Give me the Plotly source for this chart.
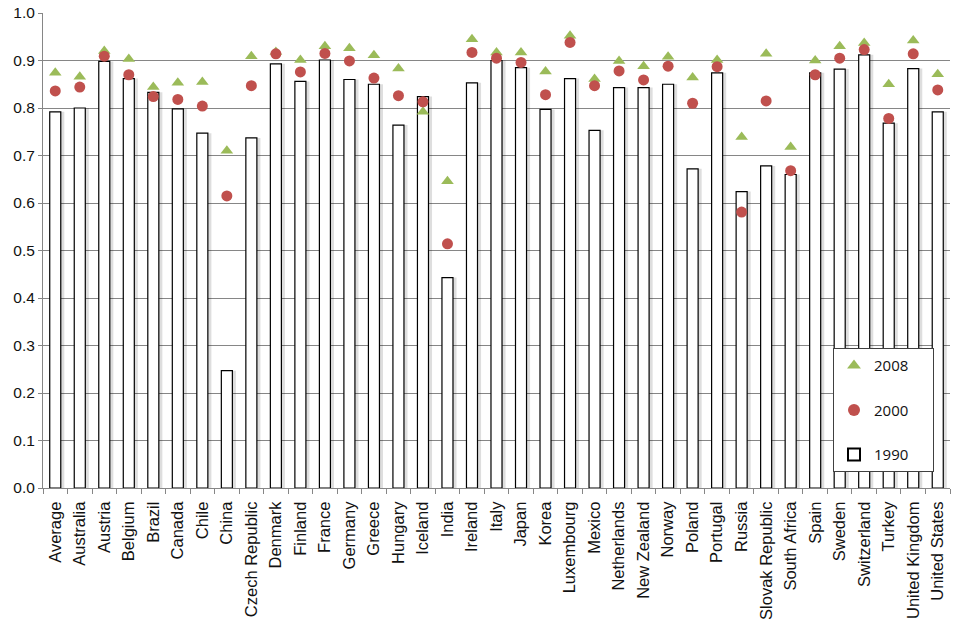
import plotly.graph_objects as go

countries = ["Average", "Australia", "Austria", "Belgium", "Brazil", "Canada", "Chile", "China",
             "Czech Republic", "Denmark", "Finland", "France", "Germany", "Greece", "Hungary",
             "Iceland", "India", "Ireland", "Italy", "Japan", "Korea", "Luxembourg", "Mexico",
             "Netherlands", "New Zealand", "Norway", "Poland", "Portugal", "Russia",
             "Slovak Republic", "South Africa", "Spain", "Sweden", "Switzerland", "Turkey",
             "United Kingdom", "United States"]

v1990 = [0.792, 0.800, 0.898, 0.862, 0.833, 0.798, 0.747, 0.247, 0.737, 0.893, 0.856,
         0.901, 0.860, 0.850, 0.764, 0.824, 0.443, 0.853, 0.900, 0.885, 0.797, 0.862,
         0.753, 0.843, 0.843, 0.850, 0.672, 0.874, 0.624, 0.678, 0.660, 0.874, 0.882,
         0.912, 0.768, 0.883, 0.792]

v2000 = [0.836, 0.844, 0.909, 0.870, 0.824, 0.818, 0.804, 0.615, 0.847, 0.914, 0.876,
         0.915, 0.899, 0.863, 0.826, 0.813, 0.514, 0.917, 0.905, 0.896, 0.828, 0.938,
         0.847, 0.878, 0.859, 0.888, 0.810, 0.887, 0.581, 0.815, 0.668, 0.870, 0.905,
         0.923, 0.778, 0.914, 0.838]

v2008 = [0.874, 0.866, 0.920, 0.903, 0.844, 0.853, 0.855, 0.710, 0.909, 0.918, 0.901,
         0.930, 0.926, 0.911, 0.883, 0.792, 0.646, 0.945, 0.917, 0.917, 0.877, 0.952,
         0.861, 0.899, 0.888, 0.908, 0.864, 0.901, 0.739, 0.914, 0.718, 0.900, 0.930,
         0.937, 0.850, 0.942, 0.871]

y_ticks = [0.0, 0.1, 0.2, 0.3, 0.4, 0.5, 0.6, 0.7, 0.8, 0.9, 1.0]

fig = go.Figure()

# bar shadow (visual effect)
fig.add_trace(go.Bar(
    x=countries, y=v1990, width=0.45, offset=-0.08,
    marker=dict(color="rgba(0,0,0,0.13)", line=dict(width=0)),
    showlegend=False, hoverinfo="skip"))

pad = "\u00a0" * 5
fig.add_trace(go.Scatter(
    x=countries, y=v2008, mode="markers", name="2008" + pad,
    legendgroup="a",
    marker=dict(symbol="triangle-up", size=11, color="#9BBB59")))

fig.add_trace(go.Scatter(
    x=countries, y=v2000, mode="markers", name="2000" + pad,
    legendgroup="b",
    marker=dict(symbol="circle", size=11, color="#C0504D")))

fig.add_trace(go.Bar(
    x=countries, y=v1990, name="1990" + pad, width=0.45, offset=-0.225,
    legendgroup="c",
    marker=dict(color="white", line=dict(color="black", width=1.2))))

fig.update_layout(
    width=954, height=624,
    margin=dict(l=43, r=4, t=9, b=135),
    paper_bgcolor="white", plot_bgcolor="white",
    barmode="overlay",
    font=dict(family="Liberation Sans, Arial", size=15.5, color="#111"),
    showlegend=True,
    legend=dict(
        x=0.871, y=0.294, xanchor="left", yanchor="top",
        bgcolor="white", bordercolor="#404040", borderwidth=1,
        font=dict(family="Open Sans", size=15, color="#111"),
        tracegroupgap=22, itemsizing="constant",
    ),
    xaxis=dict(
        type="category", tickangle=-90, tickson="boundaries",
        ticks="outside", ticklen=5, tickcolor="#868686",
        tickfont=dict(size=16.5), ticklabelstandoff=6,
        showline=True, linecolor="#868686", linewidth=1,
        showgrid=False, range=[-0.5, len(countries) - 0.5],
    ),
    yaxis=dict(
        range=[0, 1.0], tickvals=y_ticks, tickformat=".1f",
        ticks="outside", ticklen=4, tickcolor="#868686",
        showline=True, linecolor="#868686", linewidth=1,
        showgrid=True, gridcolor="#868686", gridwidth=1,
        zeroline=False,
    ),
)

fig.write_html("out.html", config={"displayModeBar": False},
               post_script="document.body.style.margin='0px';")
